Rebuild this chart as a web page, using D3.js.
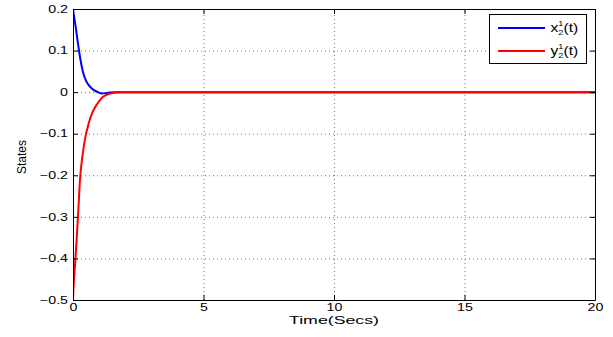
<!DOCTYPE html>
<html lang="en">
<head>
  <meta charset="UTF-8">
  <title>States</title>
  <script src="https://d3js.org/d3.v7.min.js"></script>
  <style>
    body { margin: 0; background: #fff; }
    svg { display: block; font-family: "Liberation Sans", Arial, sans-serif; }
    .grid line { stroke: #777; stroke-dasharray: 1,3; }
    .grid path { display: none; }
    .axis path, .axis line { stroke: #000; fill: none; }
  </style>
</head>
<body>
  <svg width="613" height="337"></svg>

  <script>
    // values
    const tBlue = [0, 0.05, 0.1, 0.17, 0.23, 0.3, 0.38, 0.48, 0.6, 0.8, 0.96, 1.1, 1.3, 1.6, 2.2, 20];
    const x21 = [0.2, 0.178, 0.158, 0.126, 0.1, 0.073, 0.049, 0.03, 0.017, 0.005, 0, -0.003, -0.002, 0, 0, 0];
    const tRed = [0, 0.02, 0.05, 0.1, 0.19, 0.28, 0.36, 0.45, 0.6, 0.75, 0.9, 1.15, 1.45, 1.8, 2.5, 20];
    const y21 = [-0.5, -0.47, -0.44, -0.395, -0.3, -0.2, -0.155, -0.116, -0.075, -0.048, -0.031, -0.011, -0.003, 0, 0, 0];
    const xTicks = [0, 5, 10, 15, 20];
    const yTicks = [-0.5, -0.4, -0.3, -0.2, -0.1, 0, 0.1, 0.2];
    const xTickLabels = ['0', '5', '10', '15', '20'];
    const yTickLabels = ['\u22120.5', '\u22120.4', '\u22120.3', '\u22120.2', '\u22120.1', '0', '0.1', '0.2'];

    const pL = 73, pR = 595, pT = 9, pB = 300;
    const sx = 1.42; // the original lettering is stretched sideways

    const svg = d3.select('svg');

    const x = d3.scaleLinear().domain([0, 20]).range([pL, pR]);
    const y = d3.scaleLinear().domain([-0.5, 0.2]).range([pB, pT]);

    // dotted grid
    svg.append('g')
      .attr('class', 'grid')
      .attr('transform', `translate(0, ${pB})`)
      .call(d3.axisBottom(x).tickValues(xTicks).tickSize(-(pB - pT)).tickFormat(''));

    svg.append('g')
      .attr('class', 'grid')
      .attr('transform', `translate(${pL}, 0)`)
      .call(d3.axisLeft(y).tickValues(yTicks).tickSize(-(pR - pL)).tickFormat(''));

    // curves
    svg.append('clipPath').attr('id', 'plot')
      .append('rect')
      .attr('x', pL).attr('y', pT - 1)
      .attr('width', pR - pL).attr('height', pB - pT + 2);

    const line = d3.line()
      .x(d => x(d[0]))
      .y(d => y(d[1]))
      .curve(d3.curveMonotoneX);

    svg.append('path')
      .datum(tBlue.map((t, i) => [t, x21[i]]))
      .attr('clip-path', 'url(#plot)')
      .attr('d', line)
      .attr('fill', 'none')
      .attr('stroke', '#0000ff')
      .attr('stroke-width', 2);

    svg.append('path')
      .datum(tRed.map((t, i) => [t, y21[i]]))
      .attr('clip-path', 'url(#plot)')
      .attr('d', line)
      .attr('fill', 'none')
      .attr('stroke', '#ff0000')
      .attr('stroke-width', 2);

    // box axes, ticks pointing inward
    const xAxis = svg.append('g')
      .attr('class', 'axis')
      .attr('transform', `translate(0, ${pB})`)
      .call(d3.axisBottom(x).tickValues(xTicks).tickSizeInner(-5).tickSizeOuter(0).tickPadding(4)
        .tickFormat((d, i) => xTickLabels[i]));

    const yAxis = svg.append('g')
      .attr('class', 'axis')
      .attr('transform', `translate(${pL}, 0)`)
      .call(d3.axisLeft(y).tickValues(yTicks).tickSizeInner(-5).tickSizeOuter(0).tickPadding(5)
        .tickFormat((d, i) => yTickLabels[i]));

    svg.append('g')
      .attr('class', 'axis')
      .attr('transform', `translate(0, ${pT})`)
      .call(d3.axisTop(x).tickValues(xTicks).tickSizeInner(-5).tickSizeOuter(0).tickFormat(''));

    svg.append('g')
      .attr('class', 'axis')
      .attr('transform', `translate(${pR}, 0)`)
      .call(d3.axisRight(y).tickValues(yTicks).tickSizeInner(-5).tickSizeOuter(0).tickFormat(''));

    svg.selectAll('.axis text')
      .attr('font-family', '"Liberation Sans", Arial, sans-serif')
      .attr('font-size', 10)
      .attr('fill', '#000');

    xAxis.selectAll('text').attr('transform', `scale(${sx}, 1)`);
    yAxis.selectAll('text')
      .attr('x', -5 / sx)
      .attr('transform', `scale(${sx}, 1)`);

    // axis titles
    svg.append('text')
      .attr('x', (pL + pR) / 2)
      .attr('y', 324)
      .attr('text-anchor', 'middle')
      .attr('font-size', 10.5)
      .attr('textLength', 90)
      .attr('lengthAdjust', 'spacingAndGlyphs')
      .text('Time(Secs)');

    svg.append('text')
      .attr('transform', 'translate(26, 157) rotate(-90)')
      .attr('text-anchor', 'middle')
      .attr('font-size', 12)
      .text('States');

    // legend
    const legend = svg.append('g');
    legend.append('rect')
      .attr('x', 489.5).attr('y', 14.5)
      .attr('width', 97).attr('height', 49)
      .attr('fill', '#fff')
      .attr('stroke', '#000');

    const entries = [
      { base: 'x', color: '#0000ff', yy: 28 },
      { base: 'y', color: '#ff0000', yy: 51 }
    ];

    entries.forEach(e => {
      legend.append('line')
        .attr('x1', 498).attr('x2', 545)
        .attr('y1', e.yy).attr('y2', e.yy)
        .attr('stroke', e.color)
        .attr('stroke-width', 2);
      const g = legend.append('g')
        .attr('transform', `translate(550.5, ${e.yy + 3.5}) scale(1.3, 1)`);
      g.append('text').attr('font-size', 12).text(e.base);
      g.append('text').attr('x', 6).attr('y', -5.5).attr('font-size', 7).text('1');
      g.append('text').attr('x', 6).attr('y', 3).attr('font-size', 7).text('2');
      g.append('text').attr('x', 10).attr('font-size', 12).text('(t)');
    });
  </script>
</body>
</html>
